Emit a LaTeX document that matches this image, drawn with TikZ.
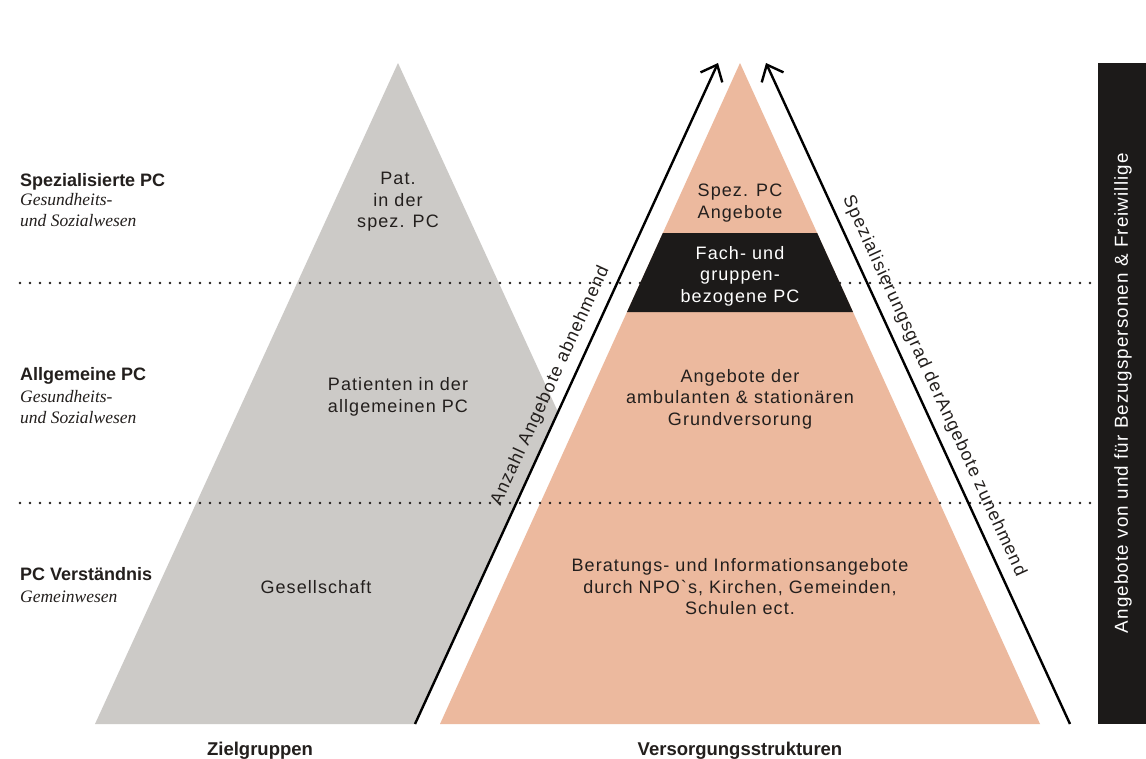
\documentclass[tikz,border=0pt]{standalone}
\usepackage{fontspec}
\usepackage{graphicx}
\setmainfont{Liberation Serif}
\newfontfamily\sansL{Liberation Sans}[LetterSpace=6]
\newfontfamily\sansB{Liberation Sans}
\usetikzlibrary{arrows.meta,calc}
\definecolor{pgrey}{HTML}{CCCAC7}
\definecolor{psalmon}{HTML}{ECB99E}
\definecolor{pblack}{HTML}{1C1A19}
\definecolor{ptext}{HTML}{231F1D}
\tikzset{
  body/.style={font={\sansL\fontsize{18}{21.5}\selectfont}, text=ptext, align=center, inner sep=0pt},
  whitebody/.style={body, text=white},
  lvl/.style={font={\sansB\bfseries\fontsize{18}{21}\selectfont}, text=ptext, anchor=base west, inner sep=0pt},
  sub/.style={font={\itshape\fontsize{17.5}{21}\selectfont}, text=ptext, anchor=base west, inner sep=0pt},
  foot/.style={font={\sansB\bfseries\fontsize{18.5}{21}\selectfont}, text=ptext, anchor=base, inner sep=0pt},
  dotline/.style={draw=ptext, line width=2.6pt, line cap=round, dash pattern=on 0pt off 10pt},
  bigarrow/.style={draw=black, line width=2.4pt, -{Straight Barb[length=14pt,width=24pt,line width=2.4pt]}},
  slopetext/.style={font={\sansL\fontsize{18}{21}\selectfont}, text=ptext, sloped, above, inner sep=8pt, pos=0.5}
}
\begin{document}
\begin{tikzpicture}[x=1pt,y=-1pt]
\useasboundingbox (0,0) rectangle (1146,758);
\fill[white] (0,0) rectangle (1146,758);
% coordinates
\coordinate (gT) at (398,63);
\coordinate (gL) at (95,724);
\coordinate (gR) at (701,724);
\coordinate (aB) at (415,724);
\coordinate (aT) at (718,63);
\coordinate (sT) at (740,63);
\coordinate (sL) at (440,724);
\coordinate (sR) at (1040,724);
\coordinate (bB) at (1070,724);
\coordinate (bT) at (766,63);
% grey pyramid
\fill[pgrey] (gT) -- (gL) -- (aB) -- (intersection of gT--gR and aB--aT) -- cycle;
% salmon pyramid
\fill[psalmon] (sT) -- (sL) -- (sR) -- cycle;
% dotted separators
\coordinate (d1a) at (20,283);
\coordinate (d1b) at (1096,283);
\coordinate (d2a) at (20,503);
\coordinate (d2b) at (1096,503);
\draw[dotline] (d1a) -- (d1b);
\draw[dotline] (d2a) -- (d2b);
% black band
\fill[pblack] ($(sT)!0.2572!(sL)$) -- ($(sT)!0.3767!(sL)$) -- ($(sT)!0.3767!(sR)$) -- ($(sT)!0.2572!(sR)$) -- cycle;
% right bar
\fill[pblack] (1098,63) rectangle (1146,724);
\node[font={\sansL\fontsize{18.8}{21}\selectfont}, text=white, rotate=90, inner sep=0pt] (bar) at (1123,393) {Angebote von und für Bezugspersonen \& Freiwillige};
% arrows
\draw[bigarrow] (aB) -- (aT) node[slopetext] (lefttxt) {Anzahl Angebote abnehmend};
\draw[bigarrow] (bB) -- (bT) node[slopetext] (righttxt) {Spezialisierungsgrad derAngebote zunehmend};
% left labels
\node[lvl] (l1) at (20,186) {Spezialisierte PC};
\node[sub] (l1a) at (20,205) {Gesundheits-};
\node[sub] (l1b) at (20,226) {und Sozialwesen};
\node[lvl] (l2) at (20,380) {Allgemeine PC};
\node[sub] (l2a) at (20,402) {Gesundheits-};
\node[sub] (l2b) at (20,423) {und Sozialwesen};
\node[lvl] (l3) at (20,580) {PC Verständnis};
\node[sub] (l3a) at (20,602) {Gemeinwesen};
% grey pyramid texts
\node[body] (g1) at (398,202) {Pat.\\in der\\spez. PC};
\node[body] (g2) at (398,397) {Patienten in der\\allgemeinen PC};
\node[body] (g3) at (316,587) {Gesellschaft};
% salmon pyramid texts
\node[body] (s1) at (740,203) {Spez. PC\\Angebote};
\node[whitebody] (s2) at (740,276) {Fach- und\\gruppen-\\bezogene PC};
\node[body] (s3) at (740,399) {Angebote der\\ambulanten \& stationären\\Grundversorung};
\node[body] (s4) at (740,587) {Beratungs- und Informationsangebote\\durch NPO`s, Kirchen, Gemeinden,\\Schulen ect.};
% footers
\node[foot] (f1) at (260,755) {Zielgruppen};
\node[foot] (f2) at (740,755) {Versorgungsstrukturen};
\end{tikzpicture}
\end{document}
